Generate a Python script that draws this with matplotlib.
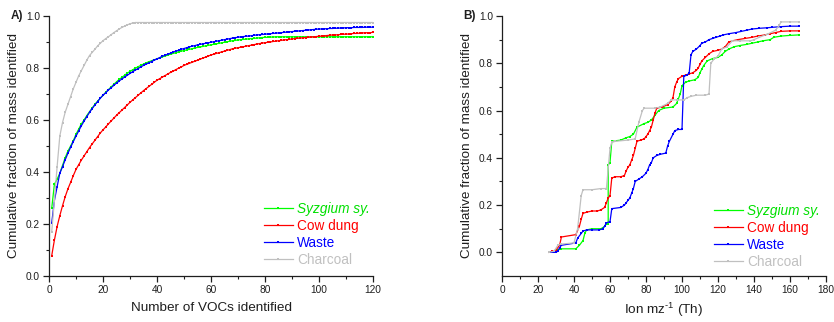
import matplotlib
matplotlib.use('Agg')
import matplotlib.pyplot as plt
from matplotlib.ticker import MultipleLocator

plt.rcParams['font.family'] = ['Liberation Sans', 'DejaVu Sans']
plt.rcParams['mathtext.fontset'] = 'custom'
plt.rcParams['mathtext.rm'] = 'Liberation Sans'
plt.rcParams['mathtext.it'] = 'Liberation Sans:italic'
plt.rcParams['mathtext.default'] = 'regular'

# ---- panel A: cumulative fraction vs number of VOCs (N = 1..120)
n_vocs = list(range(1, 121))

syzgium_a = [
    0.26, 0.353, 0.372, 0.395, 0.425, 0.455, 0.48, 0.5, 0.52, 0.545,
    0.565, 0.585, 0.6, 0.617, 0.632, 0.646, 0.66, 0.672, 0.684, 0.695,
    0.706, 0.717, 0.727, 0.737, 0.747, 0.756, 0.764, 0.772, 0.78, 0.787,
    0.793, 0.799, 0.805, 0.81, 0.815, 0.82, 0.824, 0.828, 0.832, 0.835,
    0.839, 0.843, 0.846, 0.85, 0.853, 0.856, 0.859, 0.862, 0.865, 0.867,
    0.87, 0.872, 0.874, 0.877, 0.879, 0.881, 0.883, 0.885, 0.887, 0.889,
    0.891, 0.893, 0.895, 0.897, 0.899, 0.901, 0.903, 0.905, 0.906, 0.908,
    0.909, 0.91, 0.911, 0.912, 0.913, 0.914, 0.915, 0.916, 0.917, 0.918,
    0.918, 0.919, 0.919, 0.92, 0.92, 0.92, 0.92, 0.92, 0.92, 0.92,
    0.92, 0.92, 0.92, 0.92, 0.92, 0.92, 0.92, 0.92, 0.92, 0.92,
    0.92, 0.92, 0.92, 0.92, 0.92, 0.92, 0.92, 0.92, 0.92, 0.92,
    0.92, 0.92, 0.92, 0.92, 0.92, 0.92, 0.92, 0.92, 0.92, 0.92,
]
cowdung_a = [
    0.078, 0.138, 0.19, 0.232, 0.27, 0.305, 0.335, 0.36, 0.386, 0.41,
    0.428, 0.446, 0.462, 0.478, 0.494, 0.508, 0.522, 0.536, 0.55, 0.562,
    0.573, 0.585, 0.596, 0.607, 0.618, 0.628, 0.638, 0.648, 0.658, 0.668,
    0.677, 0.686, 0.695, 0.704, 0.713, 0.721, 0.729, 0.737, 0.745, 0.753,
    0.759, 0.765, 0.771, 0.777, 0.783, 0.788, 0.794, 0.799, 0.804, 0.81,
    0.814, 0.818, 0.822, 0.826, 0.83, 0.834, 0.838, 0.842, 0.846, 0.85,
    0.853, 0.856, 0.859, 0.862, 0.865, 0.868, 0.871, 0.874, 0.876, 0.878,
    0.88, 0.882, 0.884, 0.886, 0.888, 0.89, 0.892, 0.894, 0.896, 0.897,
    0.899, 0.9, 0.902, 0.903, 0.905, 0.906, 0.908, 0.909, 0.91, 0.912,
    0.913, 0.914, 0.915, 0.916, 0.917, 0.918, 0.919, 0.92, 0.921, 0.922,
    0.923, 0.924, 0.925, 0.926, 0.927, 0.927, 0.928, 0.929, 0.93, 0.93,
    0.931, 0.932, 0.933, 0.933, 0.934, 0.935, 0.935, 0.936, 0.936, 0.937,
]
waste_a = [
    0.203, 0.29, 0.343, 0.395, 0.42, 0.447, 0.472, 0.495, 0.517, 0.538,
    0.558, 0.578, 0.596, 0.613, 0.629, 0.644, 0.658, 0.671, 0.684, 0.695,
    0.705, 0.715, 0.724, 0.733, 0.742, 0.75, 0.758, 0.765, 0.772, 0.779,
    0.786, 0.792, 0.798, 0.804, 0.81, 0.815, 0.82, 0.825, 0.83, 0.835,
    0.84, 0.845, 0.849, 0.853, 0.857, 0.861, 0.865, 0.868, 0.872, 0.875,
    0.878, 0.881, 0.884, 0.886, 0.889, 0.891, 0.893, 0.895, 0.897, 0.899,
    0.901, 0.903, 0.905, 0.907, 0.909, 0.911, 0.913, 0.915, 0.917, 0.918,
    0.92, 0.921, 0.922, 0.923, 0.924, 0.926, 0.927, 0.928, 0.929, 0.93,
    0.931, 0.932, 0.933, 0.934, 0.935, 0.936, 0.937, 0.938, 0.939, 0.94,
    0.941, 0.942, 0.943, 0.944, 0.945, 0.946, 0.947, 0.948, 0.949, 0.95,
    0.95, 0.951, 0.951, 0.952, 0.952, 0.953, 0.953, 0.954, 0.954, 0.955,
    0.955, 0.955, 0.956, 0.956, 0.956, 0.956, 0.957, 0.957, 0.957, 0.957,
]
charcoal_a = [
    0.17, 0.29, 0.42, 0.538, 0.59, 0.63, 0.66, 0.69, 0.72, 0.745,
    0.77, 0.79, 0.81, 0.83, 0.848, 0.86, 0.872, 0.885, 0.895, 0.905,
    0.913, 0.92, 0.928, 0.936, 0.943, 0.95, 0.956, 0.961, 0.966, 0.97,
    0.973, 0.975, 0.975, 0.975, 0.975, 0.975, 0.975, 0.975, 0.975, 0.975,
    0.975, 0.975, 0.975, 0.975, 0.975, 0.975, 0.975, 0.975, 0.975, 0.975,
    0.975, 0.975, 0.975, 0.975, 0.975, 0.975, 0.975, 0.975, 0.975, 0.975,
    0.975, 0.975, 0.975, 0.975, 0.975, 0.975, 0.975, 0.975, 0.975, 0.975,
    0.975, 0.975, 0.975, 0.975, 0.975, 0.975, 0.975, 0.975, 0.975, 0.975,
    0.975, 0.975, 0.975, 0.975, 0.975, 0.975, 0.975, 0.975, 0.975, 0.975,
    0.975, 0.975, 0.975, 0.975, 0.975, 0.975, 0.975, 0.975, 0.975, 0.975,
    0.975, 0.975, 0.975, 0.975, 0.975, 0.975, 0.975, 0.975, 0.975, 0.975,
    0.975, 0.975, 0.975, 0.975, 0.975, 0.975, 0.975, 0.975, 0.975, 0.975,
]

# ---- panel B: cumulative fraction vs ion m/z
syzgium_mz = [26, 28, 30, 31, 33, 41, 43, 45, 46, 47, 50, 55, 57, 58, 59, 59, 60, 61,
              66, 69, 71, 73, 75, 79, 81, 83, 85, 87, 90, 95, 97, 98, 99, 100,
              102, 104, 107, 109, 110, 111, 112, 114, 117, 120, 122, 124, 126, 129,
              132, 136, 139, 142, 145, 149, 151, 155, 160, 165]
syzgium_b = [0.0, 0.0, 0.005, 0.01, 0.015, 0.015, 0.03, 0.05, 0.08, 0.095, 0.1, 0.1, 0.11, 0.12, 0.12, 0.37, 0.38, 0.47,
             0.475, 0.485, 0.49, 0.5, 0.53, 0.545, 0.55, 0.56, 0.58, 0.6, 0.61, 0.615, 0.63, 0.65, 0.67, 0.705,
             0.72, 0.725, 0.73, 0.74, 0.76, 0.775, 0.79, 0.81, 0.82, 0.825, 0.835, 0.85, 0.86, 0.87,
             0.875, 0.88, 0.885, 0.89, 0.895, 0.9, 0.91, 0.915, 0.918, 0.92]

cowdung_mz = [26, 28, 30, 32, 33, 41, 43, 44, 45, 47, 50, 53, 55, 57, 58, 59, 60, 61,
              63, 66, 68, 69, 70, 71, 72, 73, 74, 75, 77, 79, 80, 81, 82, 83, 84, 85, 86,
              89, 92, 94, 95, 96, 97, 98, 100, 102, 104, 106, 108, 109, 110, 111, 113, 115,
              117, 120, 122, 124, 126, 128, 131, 135, 139, 142, 146, 149, 152, 155, 160, 165]
cowdung_b = [0.0, 0.005, 0.01, 0.03, 0.065, 0.075, 0.11, 0.14, 0.165, 0.17, 0.175, 0.175, 0.18, 0.19, 0.21, 0.23, 0.24, 0.315,
             0.32, 0.32, 0.325, 0.345, 0.36, 0.37, 0.39, 0.41, 0.44, 0.47, 0.475, 0.48, 0.49, 0.5, 0.515, 0.53, 0.56, 0.59, 0.61,
             0.615, 0.625, 0.64, 0.655, 0.7, 0.72, 0.735, 0.745, 0.75, 0.755, 0.76, 0.77, 0.78, 0.795, 0.81, 0.825, 0.84,
             0.85, 0.855, 0.86, 0.87, 0.89, 0.895, 0.9, 0.905, 0.91, 0.915, 0.92, 0.925, 0.93, 0.935, 0.937, 0.937]

waste_mz = [26, 28, 30, 31, 32, 33, 41, 42, 44, 45, 47, 50, 54, 56, 57, 58, 60, 61,
            66, 68, 69, 70, 71, 72, 73, 74, 76, 78, 80, 81, 82, 83, 84, 86, 88, 91, 92, 93,
            95, 96, 98, 100, 101, 103, 104, 105, 106, 108, 110, 111, 113, 115, 117, 119,
            121, 123, 126, 130, 133, 136, 139, 143, 147, 150, 155, 160, 165]
waste_b = [0.0, 0.0, 0.0, 0.005, 0.02, 0.03, 0.04, 0.06, 0.08, 0.09, 0.095, 0.095, 0.095, 0.1, 0.11, 0.125, 0.13, 0.185,
           0.19, 0.2, 0.21, 0.22, 0.23, 0.25, 0.27, 0.3, 0.31, 0.32, 0.335, 0.35, 0.37, 0.38, 0.4, 0.41, 0.415, 0.42, 0.45, 0.47,
           0.5, 0.515, 0.52, 0.52, 0.745, 0.75, 0.76, 0.836, 0.85, 0.86, 0.875, 0.885, 0.89, 0.9, 0.905, 0.91,
           0.915, 0.92, 0.925, 0.93, 0.935, 0.94, 0.945, 0.948, 0.95, 0.952, 0.955, 0.957, 0.957]

charcoal_mz = [26, 29, 31, 33, 40, 42, 44, 45, 50, 55, 58, 60, 61, 63, 70, 74, 76, 78, 79,
               85, 88, 92, 94, 97, 101, 103, 105, 108, 113, 115, 116, 118, 120, 122, 125,
               128, 132, 138, 140, 143, 148, 152, 154, 155, 160, 165]
charcoal_b = [0.0, 0.005, 0.03, 0.035, 0.04, 0.1, 0.24, 0.265, 0.265, 0.27, 0.27, 0.44, 0.465, 0.47, 0.475, 0.48, 0.55, 0.6, 0.61,
              0.61, 0.615, 0.63, 0.645, 0.645, 0.645, 0.655, 0.66, 0.665, 0.665, 0.67, 0.8, 0.82, 0.83, 0.86, 0.87,
              0.895, 0.895, 0.895, 0.9, 0.91, 0.925, 0.94, 0.96, 0.975, 0.975, 0.975]

names = ['Syzgium sy.', 'Cow dung', 'Waste', 'Charcoal']
colors = ['#00ff00', '#ff0000', '#0000ff', '#c0c0c0']
text_colors = ['#00e000', '#ff0000', '#0000ff', '#c0c0c0']
ink = '#1e1e1e'

fig = plt.figure(figsize=(8.34, 3.22), dpi=100)
axA = fig.add_axes([49 / 834, 46 / 322, 324 / 834, 260 / 322])
axB = fig.add_axes([502 / 834, 46 / 322, 324 / 834, 260 / 322])


def style_axis(ax):
    for s in ['top', 'right']:
        ax.spines[s].set_visible(False)
    for s in ['left', 'bottom']:
        ax.spines[s].set_linewidth(0.9)
        ax.spines[s].set_color(ink)
    ax.tick_params(which='major', direction='out', length=4, width=0.9, labelsize=7.3, pad=2.5,
                   color=ink, labelcolor=ink)
    ax.tick_params(which='minor', direction='out', length=2.2, width=0.8, color=ink)


panelA = [syzgium_a, cowdung_a, waste_a, charcoal_a]
for vals, nm, c in zip(panelA, names, colors):
    axA.plot(n_vocs, vals, '-', color=c, lw=0.9, marker='s', ms=1.5, mew=0, label=nm)

panelB = [(syzgium_mz, syzgium_b), (cowdung_mz, cowdung_b), (waste_mz, waste_b), (charcoal_mz, charcoal_b)]
for (mz, vals), nm, c in zip(panelB, names, colors):
    axB.plot(mz, vals, '-', color=c, lw=0.9, marker='s', ms=1.7, mew=0, label=nm)

style_axis(axA)
axA.set_xlim(0, 120)
axA.set_ylim(0, 1.0)
axA.xaxis.set_major_locator(MultipleLocator(20))
axA.xaxis.set_minor_locator(MultipleLocator(10))
axA.yaxis.set_major_locator(MultipleLocator(0.2))
axA.yaxis.set_minor_locator(MultipleLocator(0.1))
axA.yaxis.set_major_formatter(matplotlib.ticker.FormatStrFormatter('%.1f'))
axA.set_xlabel('Number of VOCs identified', fontsize=9.7, labelpad=5, color=ink)
axA.set_ylabel('Cumulative fraction of mass identified', fontsize=9.7, labelpad=4, color=ink)

style_axis(axB)
axB.set_xlim(0, 180)
axB.set_ylim(-0.1, 1.0)
axB.xaxis.set_major_locator(MultipleLocator(20))
axB.xaxis.set_minor_locator(MultipleLocator(10))
axB.set_yticks([0.0, 0.2, 0.4, 0.6, 0.8, 1.0])
axB.set_yticks([0.1, 0.3, 0.5, 0.7, 0.9], minor=True)
axB.yaxis.set_major_formatter(matplotlib.ticker.FormatStrFormatter('%.1f'))
axB.set_xlabel('Ion mz$^{\\text{-1}}$ (Th)', fontsize=9.7, labelpad=4, color=ink)
axB.set_ylabel('Cumulative fraction of mass identified', fontsize=9.7, labelpad=4, color=ink)

for ax, anchor in [(axA, (264 / 834, 1 - 202 / 322)), (axB, (714 / 834, 1 - 204 / 322))]:
    leg = ax.legend(loc='upper left', bbox_to_anchor=anchor, bbox_transform=fig.transFigure,
                    frameon=False, fontsize=9.8, borderpad=0, borderaxespad=0,
                    handlelength=2.1, handletextpad=0.35, labelspacing=0.22)
    for t, tc in zip(leg.get_texts(), text_colors):
        t.set_color(tc)
    leg.get_texts()[0].set_style('italic')

fig.text(23 / 834, 1 - 16 / 322, 'A)', ha='right', va='center', fontsize=8.5, weight='bold', color=ink)
fig.text(476 / 834, 1 - 16 / 322, 'B)', ha='right', va='center', fontsize=8.5, weight='bold', color=ink)

fig.savefig('out.png', dpi=100)
